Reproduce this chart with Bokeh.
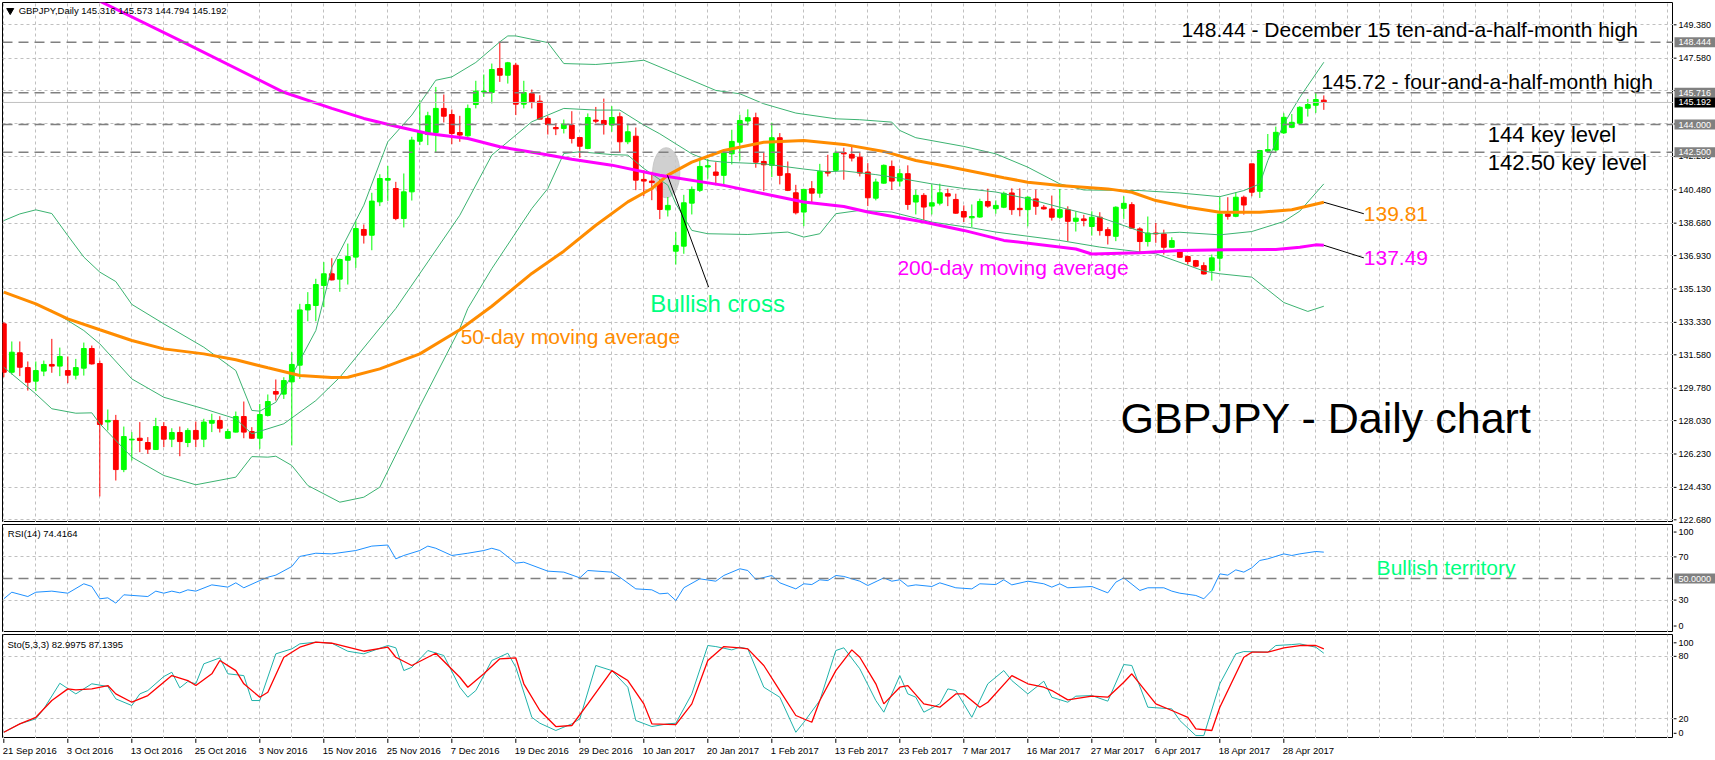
from bokeh.plotting import figure
from bokeh.layouts import column, row
from bokeh.models import Range1d, FixedTicker, Span
from bokeh.core.properties import value
from bokeh.embed import file_html
from bokeh.resources import INLINE

# ---------------- data ----------------
opens = [133.25,130.64,131.69,130.89,130.16,130.70,131.06,130.97,130.73,130.48,
         130.86,131.92,131.11,127.96,128.04,125.39,126.99,127.08,126.85,126.47,
         127.71,127.03,127.39,126.85,127.50,127.03,127.89,128.04,127.08,127.41,
         128.25,127.44,127.08,128.31,129.60,129.46,130.12,131.02,134.00,134.24,
         135.32,135.95,135.66,136.68,136.85,138.34,138.03,139.83,141.00,140.55,
         138.93,140.37,143.10,143.46,143.57,144.87,144.54,143.57,143.39,145.08,
         145.76,145.73,147.02,146.66,147.20,145.10,145.67,145.26,144.33,143.84,
         143.79,143.97,143.30,142.71,144.24,144.22,143.97,144.42,143.07,143.37,
         141.04,140.95,140.87,139.40,137.17,137.44,139.76,140.45,141.71,141.44,
         141.26,142.42,143.05,144.19,144.37,142.01,141.80,143.29,141.35,140.32,
         139.28,140.54,140.30,141.47,141.53,142.48,142.39,142.24,141.44,140.03,
         140.84,141.74,140.95,141.35,139.82,140.18,139.60,139.76,140.27,139.96,
         139.31,138.97,139.01,139.85,139.46,139.54,140.31,139.48,139.41,139.99,
         139.54,139.45,139.00,139.41,138.78,138.91,138.50,139.00,138.33,137.97,
         139.48,139.68,138.37,137.69,138.15,138.10,137.38,137.26,136.88,136.66,
         136.39,136.12,136.79,139.18,139.05,140.08,141.88,140.40,142.56,142.63,
         143.55,143.85,144.07,144.88,145.04,145.316]
highs = [133.34,132.30,132.30,131.22,131.22,131.27,132.44,131.97,131.49,131.36,
         132.24,132.08,131.27,128.63,128.34,127.71,127.41,127.95,127.14,128.18,
         127.95,127.62,127.71,127.62,127.98,128.13,128.40,128.27,127.59,128.52,
         129.06,127.68,128.93,129.44,130.25,130.37,131.72,134.33,134.96,135.68,
         136.58,136.79,136.77,137.58,138.79,138.61,140.32,141.32,141.77,140.91,
         141.36,143.34,145.31,144.69,146.03,145.62,144.81,144.47,145.08,146.36,
         146.70,147.29,148.46,147.38,147.33,146.36,145.89,145.58,144.45,144.06,
         144.27,144.72,143.30,144.60,144.95,145.40,144.99,144.65,144.02,143.84,
         141.54,141.45,141.05,140.09,138.20,140.21,140.66,142.12,142.15,141.97,
         142.51,143.72,144.53,144.82,144.64,142.48,144.10,143.54,142.01,140.75,
         140.54,140.95,141.88,142.37,142.60,142.75,142.82,142.46,141.92,141.08,
         141.85,142.06,141.61,141.80,140.48,140.30,140.77,140.81,140.54,140.27,
         139.64,139.69,140.00,140.54,139.91,140.38,140.56,140.56,140.13,140.49,
         139.66,140.17,140.53,139.59,139.31,139.13,139.32,139.27,138.46,139.59,
         140.13,139.81,138.46,139.04,138.69,138.33,137.92,137.29,136.93,136.70,
         136.57,136.99,140.08,140.08,140.35,140.17,141.88,142.63,143.49,143.89,
         144.61,144.57,144.99,145.38,145.716,145.573]
lows = [130.37,130.52,130.43,129.65,129.62,130.43,130.61,130.43,130.05,130.25,
        130.46,131.05,123.94,127.50,124.80,125.25,125.88,126.33,126.24,126.45,
        126.60,126.60,126.11,126.60,126.60,126.60,127.41,127.39,127.05,127.39,
        127.08,127.05,126.51,128.25,129.11,129.20,126.69,130.28,133.39,133.39,
        134.15,135.59,134.98,135.37,136.27,137.58,137.22,139.60,139.88,138.84,
        138.45,139.90,142.89,142.89,142.47,144.11,142.94,143.07,143.34,144.87,
        145.49,145.14,146.30,146.21,144.51,144.87,144.87,144.29,143.46,143.43,
        143.52,142.98,142.20,142.67,144.06,143.46,143.61,142.47,142.94,140.46,
        140.14,139.92,138.90,139.04,136.45,137.03,139.15,140.36,141.08,140.72,
        140.72,141.85,142.06,143.95,141.67,140.41,141.17,140.77,140.41,139.15,
        138.52,139.78,140.05,141.20,141.44,141.02,142.01,141.20,139.60,139.91,
        140.81,140.48,140.66,139.40,139.15,138.83,139.15,139.64,139.60,139.19,
        138.74,138.47,138.97,139.51,139.19,139.49,139.13,139.05,138.51,139.13,
        139.41,138.82,138.91,137.71,138.23,138.51,138.01,138.01,137.53,137.71,
        138.91,138.37,137.02,137.42,137.62,136.99,137.35,136.81,136.45,136.30,
        135.91,135.58,136.09,138.87,139.00,139.14,140.13,140.04,142.51,142.51,
        143.49,143.80,144.03,144.43,144.63,144.794]
closes = [130.64,131.72,130.91,130.10,130.73,131.06,130.97,131.49,130.48,130.89,
          131.92,131.09,127.82,128.04,125.39,127.17,127.03,126.96,126.49,127.71,
          127.03,127.39,126.90,127.50,127.03,127.95,128.04,127.62,127.44,128.25,
          127.41,127.08,128.36,129.06,129.46,130.19,131.06,134.00,134.29,135.37,
          135.95,135.62,136.72,136.88,138.39,138.03,139.87,141.09,141.09,138.93,
          140.37,143.16,143.57,144.47,144.87,144.45,143.52,143.43,144.87,145.80,
          145.80,146.97,146.66,147.33,145.10,145.73,145.19,144.29,144.00,143.77,
          144.02,143.25,142.83,144.38,144.18,144.00,144.38,143.07,143.61,141.00,
          140.95,140.87,139.42,139.64,137.48,139.78,140.50,141.74,141.78,141.26,
          142.46,143.09,144.22,144.37,141.97,141.83,143.29,141.26,140.45,139.24,
          140.50,140.30,141.47,141.38,142.46,142.42,142.19,141.38,140.05,140.90,
          141.80,140.95,141.35,139.69,140.18,139.55,139.78,140.32,140.14,139.22,
          139.01,139.04,139.85,139.60,139.64,140.29,139.41,139.41,140.08,139.59,
          139.45,139.00,139.41,138.78,138.95,138.82,139.00,138.28,138.01,139.54,
          139.75,138.41,137.69,138.15,138.10,137.38,137.74,136.84,136.61,136.36,
          135.94,136.81,139.18,139.05,140.08,139.66,140.35,142.60,142.65,143.58,
          144.39,144.12,144.93,145.08,145.35,145.192]

date_bars = [0, 8, 16, 24, 32, 40, 48, 56, 64, 72, 80, 88, 96, 104, 112, 120, 128, 136, 144, 152, 160]
date_labels = ["21 Sep 2016", "3 Oct 2016", "13 Oct 2016", "25 Oct 2016", "3 Nov 2016",
               "15 Nov 2016", "25 Nov 2016", "7 Dec 2016", "19 Dec 2016", "29 Dec 2016",
               "10 Jan 2017", "20 Jan 2017", "1 Feb 2017", "13 Feb 2017", "23 Feb 2017",
               "7 Mar 2017", "16 Mar 2017", "27 Mar 2017", "6 Apr 2017", "18 Apr 2017",
               "28 Apr 2017"]

price_ticks = [149.38, 147.58, 145.83, 144.03, 142.28, 140.48, 138.68, 136.93,
               135.13, 133.33, 131.58, 129.78, 128.03, 126.23, 124.43, 122.68]
level_prices = [148.444, 145.716, 144.000, 142.500]
last_price = 145.192

rsi_ticks = [93, 70, 30, 6]
rsi_tick_labels = ["100", "70", "30", "0"]
sto_ticks = [93, 80, 20, 6]
sto_tick_labels = ["100", "80", "20", "0"]

ma200_bar = [12, 22, 35, 41, 45, 49, 53, 58, 62, 67, 71, 76, 82, 90, 95, 100, 105, 108,
             115, 120, 125, 134, 136, 142, 147, 153, 159, 162, 164, 165]
ma200_val = [150.65, 148.54, 145.74, 144.87, 144.33, 143.91, 143.52, 143.25, 142.80,
             142.44, 142.13, 141.81, 141.27, 140.72, 140.27, 139.82, 139.58, 139.28,
             138.74, 138.29, 137.75, 137.29, 137.02, 137.08, 137.20, 137.24, 137.26,
             137.38, 137.51, 137.49]

ma50_bar = [0, 4, 8, 12, 16, 20, 25, 29, 33, 37, 41, 43, 47, 52, 57, 61, 66, 70, 74, 78,
            81, 83, 86, 90, 95, 100, 105, 110, 114, 118, 125, 128, 132, 138, 141, 144,
            148, 152, 157, 161, 165]
ma50_val = [134.96, 134.33, 133.52, 132.93, 132.35, 131.90, 131.63, 131.31, 130.88,
            130.46, 130.35, 130.37, 130.82, 131.63, 132.93, 134.20, 135.97, 137.17,
            138.57, 139.83, 140.55, 141.27, 141.97, 142.60, 143.05, 143.14, 142.93,
            142.55, 142.06, 141.74, 141.13, 140.89, 140.71, 140.53, 140.35, 139.90,
            139.54, 139.27, 139.27, 139.40, 139.81]

bb_up_bar = [0, 2, 4, 6, 8, 10, 12, 14, 16, 20, 25, 29, 31, 32, 34, 36, 39, 41, 45, 48,
             51, 54, 56, 59, 62, 63, 64, 68, 70, 74, 78, 80, 83, 89, 92, 95, 99, 104,
             107, 111, 112, 114, 120, 124, 128, 132, 135, 142, 147, 152, 155, 157, 158,
             160, 162, 165]
bb_up_val = [138.82, 139.18, 139.40, 139.20, 138.01, 136.85, 136.04, 135.53, 134.30,
             133.25, 131.99, 130.73, 128.58, 128.54, 129.02, 130.46, 132.89, 136.30,
             139.65, 143.07, 144.51, 146.39, 146.57, 147.35, 148.46, 148.78, 148.78,
             148.42, 147.29, 147.24, 147.38, 147.47, 146.93, 145.84, 145.66, 145.12,
             144.62, 144.31, 144.26, 144.13, 143.68, 143.29, 142.82, 142.42, 141.70,
             140.80, 140.47, 140.44, 140.31, 140.11, 140.44, 140.80, 142.06, 144.03,
             145.47, 147.36]

bb_mid_bar = [0, 6, 10, 12, 16, 20, 25, 29, 31, 35, 39, 42, 49, 53, 57, 61, 66, 70, 74,
              77, 80, 82, 86, 88, 90, 95, 100, 103, 105, 109, 112, 116, 120, 124, 128,
              132, 137, 143, 147, 152, 156, 160, 162, 165]
bb_mid_val = [134.96, 133.97, 132.89, 132.17, 130.28, 129.29, 128.67, 128.13, 127.32,
              127.86, 129.11, 130.37, 134.08, 136.59, 139.11, 142.35, 144.15, 144.87,
              144.78, 144.78, 143.97, 143.50, 142.42, 142.06, 141.97, 141.88, 141.60,
              141.45, 141.50, 141.30, 141.10, 140.80, 140.55, 140.36, 140.00, 139.54,
              139.00, 138.10, 138.19, 138.05, 138.23, 138.77, 139.33, 140.80]

bb_lo_bar = [0, 4, 6, 9, 11, 12, 16, 20, 24, 29, 31, 33, 34, 36, 38, 42, 45, 47, 52, 57,
             58, 61, 66, 68, 70, 72, 76, 78, 80, 83, 84, 86, 88, 93, 98, 100, 102, 104,
             107, 111, 116, 121, 124, 132, 137, 144, 150, 152, 156, 160, 163, 165]
bb_lo_val = [130.91, 129.47, 128.67, 128.43, 128.45, 127.86, 126.06, 125.07, 124.57,
             124.98, 126.09, 126.06, 126.11, 125.61, 124.53, 123.63, 123.90, 124.44,
             128.80, 133.00, 134.08, 136.23, 139.47, 140.55, 142.44, 142.53, 142.38,
             142.35, 141.63, 140.73, 139.73, 138.29, 138.11, 138.07, 138.20, 137.93,
             138.11, 139.19, 139.37, 139.28, 138.74, 138.43, 138.20, 137.75, 137.39,
             137.03, 136.10, 135.95, 135.77, 134.40, 133.92, 134.20]

rsi_bar = [0, 1, 3, 4, 6, 8, 10, 11, 12, 13, 14, 15, 18, 19, 20, 21, 22, 23, 24, 26, 28,
           29, 30, 32, 33, 34, 36, 37, 39, 41, 44, 46, 48, 49, 50, 52, 53, 54, 56, 58, 60,
           61, 62, 64, 65, 68, 70, 72, 73, 76, 77, 79, 81, 82, 83, 84, 85, 87, 89, 90,
           92, 93, 94, 96, 97, 99, 100, 101, 102, 103, 104, 105, 107, 108, 110, 111, 112,
           113, 114, 116, 117, 119, 121, 122, 124, 125, 126, 128, 130, 131, 132, 133,
           136, 138, 139, 140, 142, 143, 145, 146, 147, 149, 150, 151, 152, 153, 154,
           155, 156, 157, 158, 160, 161, 162, 164, 165]
rsi_val = [31.2, 37.3, 33.3, 37.3, 38.3, 36.4, 45.1, 42.6, 31.2, 32.1, 27.2, 34.9, 33.3,
           38.3, 36.4, 38.3, 36.7, 39.5, 38.3, 44.1, 42.0, 46.0, 41.4, 48.1, 51.2, 53.1,
           61.1, 70.4, 73.4, 72.8, 75.9, 80.0, 81.0, 68.2, 71.3, 75.9, 80.0, 78.0, 71.3,
           73.4, 75.9, 78.0, 75.9, 64.2, 65.1, 56.8, 55.9, 50.6, 57.4, 55.9, 51.2, 40.4,
           39.5, 35.8, 36.4, 29.6, 41.4, 49.7, 47.5, 52.8, 59.0, 57.4, 49.1, 52.8, 46.0,
           40.4, 45.1, 44.4, 48.8, 48.1, 52.8, 51.9, 47.5, 43.5, 50.6, 47.5, 48.8, 42.9,
           44.1, 42.6, 46.0, 41.4, 40.4, 45.1, 44.4, 48.8, 44.1, 47.5, 45.1, 42.0, 45.1,
           41.4, 42.6, 36.7, 46.6, 50.6, 38.9, 41.4, 41.4, 38.3, 36.4, 34.3, 31.2, 38.9,
           54.3, 53.1, 58.0, 55.9, 59.9, 66.7, 68.2, 72.8, 71.3, 72.8, 75.0, 74.4]

sto_k_bar = [0, 2, 4, 5, 7, 9, 11, 13, 14, 16, 17, 18, 20, 21, 22, 23, 24, 25, 27, 28, 30,
             31, 32, 34, 36, 37, 39, 41, 43, 45, 48, 49, 50, 51, 53, 55, 57, 58, 59, 61,
             63, 64, 66, 67, 69, 71, 72, 74, 76, 78, 79, 81, 83, 84, 86, 88, 89, 91, 92,
             93, 95, 97, 99, 100, 102, 104, 105, 107, 109, 110, 112, 113, 114, 115, 117,
             118, 119, 121, 123, 125, 126, 128, 130, 131, 133, 134, 136, 138, 140, 141,
             143, 146, 147, 149, 150, 152, 154, 155, 158, 159, 161, 162, 164, 165]
sto_k_val = [7.0, 15.1, 19.9, 29.5, 54.1, 43.9, 53.6, 51.0, 39.1, 32.7, 43.9, 47.1, 60.6,
             64.7, 49.7, 55.8, 53.6, 72.8, 78.5, 63.2, 61.5, 37.5, 37.5, 82.4, 87.2, 92.0,
             93.6, 92.6, 84.9, 82.4, 90.4, 88.2, 66.3, 69.5, 85.6, 80.8, 50.3, 40.7, 47.1,
             76.0, 83.0, 69.5, 21.4, 15.7, 8.7, 15.1, 19.9, 71.2, 66.3, 50.3, 18.3, 12.5,
             15.1, 15.7, 43.9, 90.4, 89.4, 86.2, 88.8, 87.2, 50.3, 40.7, 7.0, 16.6, 37.5,
             85.6, 88.2, 68.0, 37.5, 26.3, 61.5, 43.9, 40.7, 26.3, 34.3, 48.7, 47.1, 21.4,
             53.6, 66.3, 56.7, 43.9, 56.1, 40.7, 35.9, 41.7, 42.3, 36.9, 72.1, 71.2, 31.1,
             29.5, 18.3, 3.8, 3.8, 53.6, 82.4, 84.6, 84.0, 90.4, 91.3, 92.0, 88.8, 83.0]

sto_d_bar = [0, 2, 4, 6, 8, 9, 11, 13, 14, 16, 18, 21, 23, 24, 26, 27, 29, 30, 32, 33, 35,
             37, 39, 41, 45, 48, 49, 51, 53, 54, 57, 58, 60, 62, 64, 65, 67, 69, 71, 73,
             76, 78, 80, 81, 84, 86, 88, 90, 92, 93, 95, 97, 99, 101, 102, 104, 106, 107,
             109, 110, 112, 113, 115, 117, 119, 120, 122, 123, 126, 128, 130, 131, 133,
             136, 138, 140, 141, 144, 146, 148, 149, 151, 152, 155, 156, 158, 160, 162,
             164, 165]
sto_d_val = [7.0, 15.1, 21.4, 37.5, 48.7, 47.8, 48.7, 51.9, 43.9, 35.9, 42.3, 61.5, 56.7,
             51.9, 63.2, 76.0, 66.3, 53.6, 40.7, 45.5, 79.1, 88.8, 93.6, 92.6, 84.9, 88.8,
             79.1, 71.2, 79.1, 83.0, 59.9, 50.3, 63.2, 77.6, 78.5, 53.6, 27.9, 12.5, 13.5,
             34.3, 66.3, 56.7, 34.3, 15.1, 14.4, 34.3, 76.0, 89.4, 88.2, 87.2, 71.2, 47.1,
             23.1, 16.6, 37.5, 66.3, 86.2, 79.1, 53.6, 34.3, 50.3, 51.9, 34.3, 31.1, 43.9,
             43.9, 31.1, 35.9, 61.5, 53.6, 50.3, 47.1, 38.1, 41.7, 40.7, 55.1, 63.2, 34.3,
             27.9, 21.4, 10.3, 8.7, 31.1, 79.1, 84.0, 84.0, 88.2, 90.4, 90.4, 87.1]

# ---------------- styling ----------------
FONT = "Liberation Sans"
FW = 1671
BULL, BEAR = "#00FF00", "#FF0000"
GRID = "#C0C0C0"
LEVEL = "#808080"
BAND = "#3CB371"
ORANGE = "#FF8C00"
MAGENTA = "#FF00FF"
SPRING = "#00FF7F"

xr = Range1d(-0.166, 208.71)
grid_bars = list(range(0, 209, 4))

MAIN_Y = (122.535, 150.583)   # frame y 2..522
RSI_Y = (0.0, 100.0)          # frame y 524..632
STO_Y = (1.0, 101.0)          # frame y 634..738


def panel(frame_h, yr, top, grid_ticks):
    p = figure(frame_width=FW, frame_height=frame_h, x_range=xr, y_range=Range1d(*yr),
               x_axis_location=None, y_axis_location=None,
               output_backend="svg", toolbar_location=None,
               min_border_left=2, min_border_right=0, min_border_top=top,
               min_border_bottom=0)
    p.background_fill_color = "white"
    p.border_fill_color = "white"
    p.outline_line_color = "black"
    p.outline_line_width = 1
    xg = p.xgrid[0]
    xg.ticker = FixedTicker(ticks=grid_bars)
    if xg.axis is not None:
        xg.axis.ticker = FixedTicker(ticks=grid_bars)
    yg = p.ygrid[0]
    yg.ticker = FixedTicker(ticks=grid_ticks)
    if yg.axis is not None:
        yg.axis.ticker = FixedTicker(ticks=grid_ticks)
    for g in p.grid:
        g.grid_line_color = GRID
        g.grid_line_dash = "3 3"
        g.grid_line_width = 1
    return p


def note(p, x, y, txt, size, color):
    p.text(x=[x], y=[y], text=[txt], text_font=value(FONT), text_font_size=size,
           text_color=color, text_align="left", text_baseline="middle")


# ---------------- main price panel ----------------
main = panel(520, MAIN_Y, 2, price_ticks)

for lv in level_prices:
    main.add_layout(Span(location=lv, dimension="width", line_color=LEVEL,
                         line_dash="10 6", line_width=1.5))
main.add_layout(Span(location=last_price, dimension="width", line_color=GRID,
                     line_width=1))

cross_bar, cross_price = [82.8], [141.4]
main.ellipse(x=cross_bar, y=cross_price, width=3.4, height=2.7,
             fill_color="#C8C8C8", line_color="#C8C8C8", fill_alpha=0.85)

idx = list(range(len(opens)))
colors = [BULL if c >= o else BEAR for o, c in zip(opens, closes)]
tops = [max(o, c) for o, c in zip(opens, closes)]
bots = [min(o, c) for o, c in zip(opens, closes)]
main.segment(x0=idx, y0=lows, x1=idx, y1=highs, line_color=colors, line_width=1)
main.vbar(x=idx, width=0.6, top=tops, bottom=bots, fill_color=colors, line_color=colors,
          line_width=1)

main.line(bb_up_bar, bb_up_val, line_color=BAND, line_width=1)
main.line(bb_mid_bar, bb_mid_val, line_color=BAND, line_width=1)
main.line(bb_lo_bar, bb_lo_val, line_color=BAND, line_width=1)
main.line(ma50_bar, ma50_val, line_color=ORANGE, line_width=3)
main.line(ma200_bar, ma200_val, line_color=MAGENTA, line_width=3)

main.line([82.96, 88.1], [141.26, 135.23], line_color="black", line_width=1)
main.line([165, 170], [ma50_val[-1], 139.19], line_color="black", line_width=1)
main.line([165, 170], [ma200_val[-1], 136.81], line_color="black", line_width=1)

main.scatter(x=[0.8], y=[150.15], marker="inverted_triangle", size=7,
             fill_color="black", line_color="black")
note(main, 1.85, 150.15, "GBPJPY,Daily  145.316 145.573 144.794 145.192", "9.5px", "black")

note(main, 147.2, 149.12, "148.44 - December 15 ten-and-a-half-month high", "21px", "black")
note(main, 164.7, 146.31, "145.72 - four-and-a-half-month high", "21px", "black")
note(main, 185.5, 143.44, "144 key level", "22px", "black")
note(main, 185.5, 141.94, "142.50 key level", "22px", "black")
note(main, 170.0, 139.20, "139.81", "21px", ORANGE)
note(main, 170.0, 136.79, "137.49", "21px", MAGENTA)
note(main, 80.8, 134.33, "Bullish cross", "24px", SPRING)
note(main, 57.1, 132.58, "50-day moving average", "21px", ORANGE)
note(main, 111.7, 136.29, "200-day moving average", "21px", MAGENTA)
note(main, 139.6, 128.16, "GBPJPY - Daily chart", "43px", "black")

# ---------------- RSI panel ----------------
rsi = panel(108, RSI_Y, 2, [30, 70])
rsi.add_layout(Span(location=50, dimension="width", line_color=LEVEL,
                    line_dash="10 6", line_width=1.5))
rsi.line(rsi_bar, rsi_val, line_color="#1E90FF", line_width=1)
note(rsi, 0.5, 91.4, "RSI(14) 74.4164", "9.5px", "black")
note(rsi, 171.6, 60.2, "Bullish territory", "21px", SPRING)

# ---------------- Stochastic panel ----------------
sto = panel(104, STO_Y, 2, [20, 80])
sto.line(sto_k_bar, sto_k_val, line_color="#20B2AA", line_width=1)
sto.line(sto_d_bar, sto_d_val, line_color="#FF0000", line_width=1.3)
note(sto, 0.45, 91.0, "Sto(5,3,3) 82.9975 87.1395", "9.5px", "black")

# ---------------- date strip ----------------
dates = figure(frame_width=FW, frame_height=22, x_range=xr, y_range=Range1d(0, 1),
               x_axis_location=None, y_axis_location=None,
               output_backend="svg", toolbar_location=None,
               min_border_left=2, min_border_right=0, min_border_top=0,
               min_border_bottom=0)
dates.outline_line_color = None
dates.grid.visible = False
dates.background_fill_color = "white"
dates.border_fill_color = "white"
dates.segment(x0=date_bars, y0=[1.0] * len(date_bars), x1=date_bars,
              y1=[0.8] * len(date_bars), line_color="black", line_width=1)
dates.text(x=date_bars, y=[0.47] * len(date_bars), text=date_labels, x_offset=-1,
           text_font=value(FONT), text_font_size="9.5px", text_color="black",
           text_align="left", text_baseline="middle")

# ---------------- right-hand value scale (shares the panels' vertical scales) -------
# the strip spans the whole 760 px height; its ranges continue the panel scales
main_ppu = 520 / (MAIN_Y[1] - MAIN_Y[0])
rsi_ppu = 108 / (RSI_Y[1] - RSI_Y[0])
sto_ppu = 104 / (STO_Y[1] - STO_Y[0])
strip = figure(frame_width=42, frame_height=760, x_range=Range1d(0, 42),
               y_range=Range1d(MAIN_Y[0] - 238 / main_ppu, MAIN_Y[1] + 2 / main_ppu),
               x_axis_location=None, y_axis_location=None,
               output_backend="svg", toolbar_location=None, min_border=0)
strip.extra_y_ranges = {
    "rsi": Range1d(RSI_Y[0] - 128 / rsi_ppu, RSI_Y[1] + 524 / rsi_ppu),
    "sto": Range1d(STO_Y[0] - 22 / sto_ppu, STO_Y[1] + 634 / sto_ppu),
}
strip.outline_line_color = None
strip.grid.visible = False
strip.background_fill_color = "white"
strip.border_fill_color = "white"


def scale_labels(ticks, labels, rng):
    n = len(ticks)
    strip.segment(x0=[0] * n, y0=ticks, x1=[3] * n, y1=ticks, line_color="black",
                  line_width=1, y_range_name=rng)
    strip.text(x=[5] * n, y=ticks, text=labels, text_font=value(FONT),
               text_font_size="9px", text_color="black", text_align="left",
               text_baseline="middle", y_range_name=rng)


def scale_box(y, txt, fill, rng):
    strip.rect(x=[21.5], y=[y], width=41, height=10, height_units="screen",
               fill_color=fill, line_color=None, y_range_name=rng)
    strip.text(x=[5], y=[y], text=[txt], text_font=value(FONT), text_font_size="9px",
               text_color="white", text_align="left", text_baseline="middle",
               y_range_name=rng)


scale_labels(price_ticks, ["%.3f" % t for t in price_ticks], "default")
for lv in level_prices:
    scale_box(lv, "%.3f" % lv, LEVEL, "default")
scale_box(last_price, "%.3f" % last_price, "black", "default")

scale_labels(rsi_ticks, rsi_tick_labels, "rsi")
scale_box(50, "50.0000", LEVEL, "rsi")
scale_labels(sto_ticks, sto_tick_labels, "sto")

layout = row(column(main, rsi, sto, dates, spacing=0), strip, spacing=0)
open("out.html", "w").write(file_html(layout, INLINE))
